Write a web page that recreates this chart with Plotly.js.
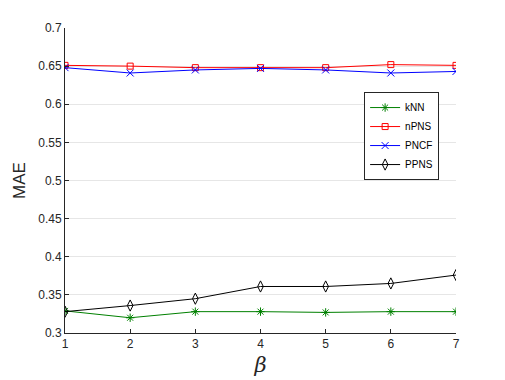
<!DOCTYPE html>
<html>
<head>
<meta charset="utf-8">
<script src="https://cdn.plot.ly/plotly-3.0.1.min.js"></script>
<style>
  html, body { margin: 0; padding: 0; background: #fff; }
  #chart { width: 505px; height: 380px; }
</style>
</head>
<body>
<div id="chart"></div>
<script>
// beta values on the x axis
const beta = [1, 2, 3, 4, 5, 6, 7];

// MAE per method
const knn  = [0.329, 0.320, 0.328, 0.328, 0.327, 0.328, 0.328];
const npns = [0.651, 0.650, 0.648, 0.648, 0.648, 0.652, 0.651];
const pncf = [0.648, 0.641, 0.645, 0.647, 0.645, 0.641, 0.643];
const ppns = [0.328, 0.336, 0.345, 0.361, 0.361, 0.365, 0.376];

const yTicks = [0.3, 0.35, 0.4, 0.45, 0.5, 0.55, 0.6, 0.65, 0.7];

// one trace per method, matlab style markers
function series(name, y, color, symbol, size) {
    return {
        x: beta,
        y: y,
        name: name,
        type: 'scatter',
        mode: 'lines+markers',
        line: { color: color, width: 1 },
        marker: { symbol: symbol, size: size, color: color, line: { color: color, width: 1 } }
    };
}

const traces = [
    series('kNN', knn, '#008000', 'asterisk-open', 7),
    series('nPNS', npns, '#ff0000', 'square-open', 6),
    series('PNCF', pncf, '#0000ff', 'x-thin-open', 7),
    series('PPNS', ppns, '#000000', 'diamond-tall-open', 8)
];

const layout = {
    width: 505,
    height: 380,
    margin: { l: 65, r: 49, t: 28, b: 47 },
    paper_bgcolor: '#ffffff',
    plot_bgcolor: '#ffffff',
    font: { family: 'Liberation Sans, Arial, sans-serif', size: 12, color: '#262626' },
    showlegend: true,
    legend: {
        x: 0.765, y: 0.79,
        xanchor: 'left', yanchor: 'top',
        bgcolor: '#ffffff',
        bordercolor: '#262626',
        borderwidth: 1,
        font: { size: 10, color: '#000' },
        tracegroupgap: 0,
        itemwidth: 30
    },
    xaxis: {
        range: [1, 7],
        tickvals: beta,
        ticks: 'inside',
        ticklen: 4,
        tickcolor: '#262626',
        showgrid: false,
        zeroline: false,
        showline: true,
        linecolor: '#262626',
        linewidth: 1,
        title: { text: '<i>β</i>', font: { size: 21, family: 'DejaVu Serif, serif', color: '#262626' }, standoff: 6 }
    },
    yaxis: {
        range: [0.3, 0.7],
        tickvals: yTicks,
        ticktext: yTicks.map(String),
        ticks: 'inside',
        ticklen: 4,
        tickcolor: '#262626',
        showgrid: true,
        gridcolor: '#e6e6e6',
        zeroline: false,
        showline: true,
        linecolor: '#262626',
        linewidth: 1,
        title: { text: 'MAE', font: { size: 17, color: '#262626' }, standoff: 8 }
    }
};

Plotly.newPlot('chart', traces, layout, { displayModeBar: false, staticPlot: true });
</script>
</body>
</html>
